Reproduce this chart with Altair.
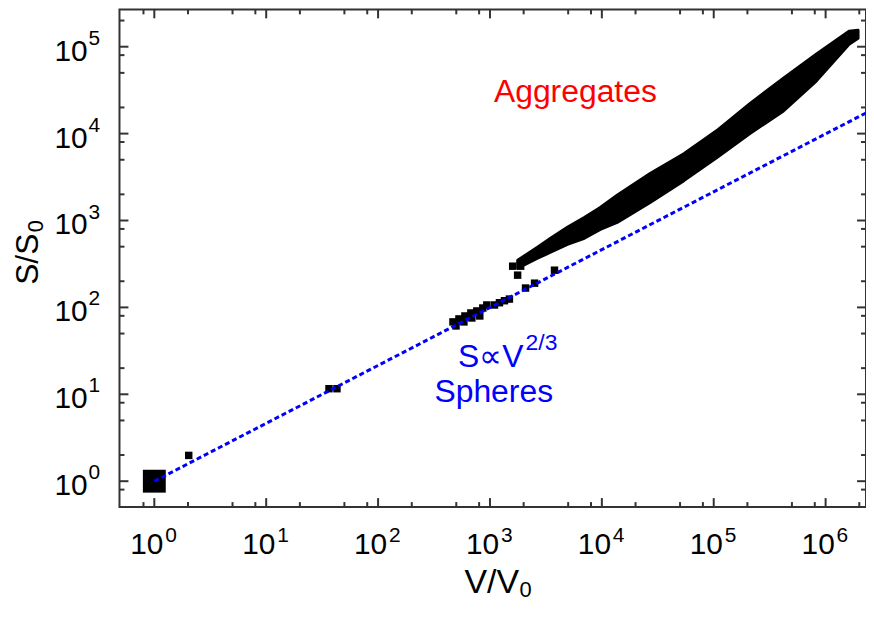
import altair as alt
import pandas as pd

FONT = "Liberation Sans"

# ---------------- data ----------------
# largest single object (monomer)
big_v = [1.0]
big_s = [1.0]

# isolated objects and small clusters (V/V0, S/S0)
pt_v = [2.03, 36.4, 42.9,
        467, 528, 597, 675, 763, 863, 937, 497, 585, 689, 811,
        1097, 1216, 1347, 1492,
        2080, 2505, 3775,
        1596, 1880, 1767]
pt_s = [1.98, 11.6, 11.6,
        68.1, 73.7, 79.7, 86.3, 91.0, 98.4, 106.6, 61.2, 68.1, 75.6, 79.7,
        106.6, 113.2, 119.4, 124.7,
        167, 190, 268,
        298, 298, 235]

# dense aggregate cloud: visible lower / upper edge of the band
band_v = [1770, 2660, 3480, 4920, 6970, 9680, 13700, 27000, 54100,
          106000, 209000, 420000, 824000, 1620000, 1950000]
band_lo = [283, 368, 431, 532, 624, 791, 951, 1611, 2877,
           5284, 9954, 18240, 40270, 106900, 125000]
band_hi = [349, 492, 624, 834, 1084, 1413, 1950, 3467, 5875,
           10760, 21930, 43550, 82000, 150700, 155000]

# sphere law S ~ V^(2/3), end points as drawn
line_v = [1.0, 2.3e6]
line_s = [1.0, 17300]

# axis ticks
x_exps = [0, 1, 2, 3, 4, 5, 6]
y_exps = [0, 1, 2, 3, 4, 5]
x_minor = [0.8] + [m * 10 ** k for k in range(0, 7) for m in (2, 5, 8) if m * 10 ** k < 2.29e6]
y_minor = [0.8] + [m * 10 ** k for k in range(0, 6) for m in (2, 5, 8) if m * 10 ** k < 2.68e5]

# annotations (anchor positions in data space)
ann_aggr = {"v": 5800, "s": 23100}
ann_law = {"v": 517, "s": 20.8}
ann_sph = {"v": 1081, "s": 8.25}

# ---------------- chart ----------------
W, H = 750, 500
xs = alt.Scale(type="log", domain=[0.4882, 2.296e6], nice=False)
ys = alt.Scale(type="log", domain=[0.5038, 268900], nice=False)


def X(f):
    return alt.X(f, type="quantitative", scale=xs, axis=None)


def Y(f):
    return alt.Y(f, type="quantitative", scale=ys, axis=None)


band_df = pd.DataFrame({"v": band_v, "lo": band_lo, "hi": band_hi})
pt_df = pd.DataFrame({"v": pt_v, "s": pt_s})
big_df = pd.DataFrame({"v": big_v, "s": big_s})
line_df = pd.DataFrame({"v": line_v, "s": line_s})

band = alt.Chart(band_df).mark_area(color="black", opacity=1, stroke="black",
                                    strokeWidth=3, strokeJoin="round", clip=True).encode(
    x=X("v"), y=Y("lo"), y2="hi:Q")
pts = alt.Chart(pt_df).mark_square(size=56, color="black", opacity=1).encode(
    x=X("v"), y=Y("s"))
big = alt.Chart(big_df).mark_square(size=529, color="black", opacity=1).encode(
    x=X("v"), y=Y("s"))
line = alt.Chart(line_df).mark_line(color="#0000ff", strokeWidth=3,
                                    strokeDash=[5, 3], clip=True).encode(
    x=X("v"), y=Y("s"))

xmaj_df = pd.DataFrame({"v": [10.0 ** k for k in x_exps], "e": [str(k) for k in x_exps]})
ymaj_df = pd.DataFrame({"v": [10.0 ** k for k in y_exps], "e": [str(k) for k in y_exps]})
xmin_df = pd.DataFrame({"v": x_minor})
ymin_df = pd.DataFrame({"v": y_minor})

TICK = dict(color="#333333", strokeWidth=2)
ticks = []
for df, L in ((xmaj_df, 9), (xmin_df, 5)):
    ticks.append(alt.Chart(df).mark_rule(**TICK).encode(
        x=X("v"), y=alt.value(H), y2=alt.value(H - L)))
    ticks.append(alt.Chart(df).mark_rule(**TICK).encode(
        x=X("v"), y=alt.value(0), y2=alt.value(L)))
for df, L in ((ymaj_df, 9), (ymin_df, 5)):
    ticks.append(alt.Chart(df).mark_rule(**TICK).encode(
        y=Y("v"), x=alt.value(0), x2=alt.value(L)))
    ticks.append(alt.Chart(df).mark_rule(**TICK).encode(
        y=Y("v"), x=alt.value(W), x2=alt.value(W - L)))

# tick labels 10^k
xl10 = alt.Chart(xmaj_df).mark_text(text="10", align="center", baseline="alphabetic",
                                    dx=-7.5, fontSize=30, font=FONT, color="black").encode(
    x=X("v"), y=alt.value(547))
xlexp = alt.Chart(xmaj_df).mark_text(align="left", baseline="alphabetic", dx=11,
                                     fontSize=21, font=FONT, color="black").encode(
    x=X("v"), y=alt.value(535), text="e:N")
yl10 = alt.Chart(ymaj_df).mark_text(text="10", align="right", baseline="alphabetic",
                                    dy=14, fontSize=30, font=FONT, color="black").encode(
    y=Y("v"), x=alt.value(-32))
ylexp = alt.Chart(ymaj_df).mark_text(align="left", baseline="alphabetic", dy=-2,
                                     fontSize=21, font=FONT, color="black").encode(
    y=Y("v"), x=alt.value(-31), text="e:N")

# axis titles
one = pd.DataFrame({"a": [0]})
xt = alt.Chart(one).mark_text(text="V/V", align="center", baseline="alphabetic",
                              fontSize=34, font=FONT, color="black").encode(
    x=alt.value(374), y=alt.value(586))
xt0 = alt.Chart(one).mark_text(text="0", align="left", baseline="alphabetic",
                               fontSize=22, font=FONT, color="black").encode(
    x=alt.value(402), y=alt.value(590))
yt = alt.Chart(one).mark_text(text="S/S", align="center", baseline="alphabetic", angle=270,
                              fontSize=32, font=FONT, color="black").encode(
    x=alt.value(-82), y=alt.value(251))
yt0 = alt.Chart(one).mark_text(text="0", align="left", baseline="alphabetic", angle=270,
                               fontSize=22, font=FONT, color="black").encode(
    x=alt.value(-77), y=alt.value(224))

# annotations
aggr = alt.Chart(pd.DataFrame([ann_aggr])).mark_text(
    text="Aggregates", align="center", baseline="alphabetic", fontSize=32,
    font=FONT, color="#ff0000").encode(x=X("v"), y=Y("s"))
law = alt.Chart(pd.DataFrame([ann_law])).mark_text(
    text="S\u221dV", align="left", baseline="alphabetic", fontSize=32,
    font=FONT, color="#0000ff").encode(x=X("v"), y=Y("s"))
law_exp = alt.Chart(pd.DataFrame([ann_law])).mark_text(
    text="2/3", align="left", baseline="alphabetic", dx=68, dy=-17, fontSize=23,
    font=FONT, color="#0000ff").encode(x=X("v"), y=Y("s"))
sph = alt.Chart(pd.DataFrame([ann_sph])).mark_text(
    text="Spheres", align="center", baseline="alphabetic", fontSize=32,
    font=FONT, color="#0000ff").encode(x=X("v"), y=Y("s"))

chart = alt.layer(
    band, pts, big, line, *ticks,
    xl10, xlexp, yl10, ylexp, xt, xt0, yt, yt0,
    aggr, law, law_exp, sph,
).properties(
    width=W, height=H,
    padding={"left": 112, "top": 0, "right": 0, "bottom": 96},
    autosize=alt.AutoSizeParams(type="none"),
    background="white",
).configure_view(stroke="#333333", strokeWidth=2)

chart.save("out.html", embed_options={"renderer": "svg", "actions": False})
